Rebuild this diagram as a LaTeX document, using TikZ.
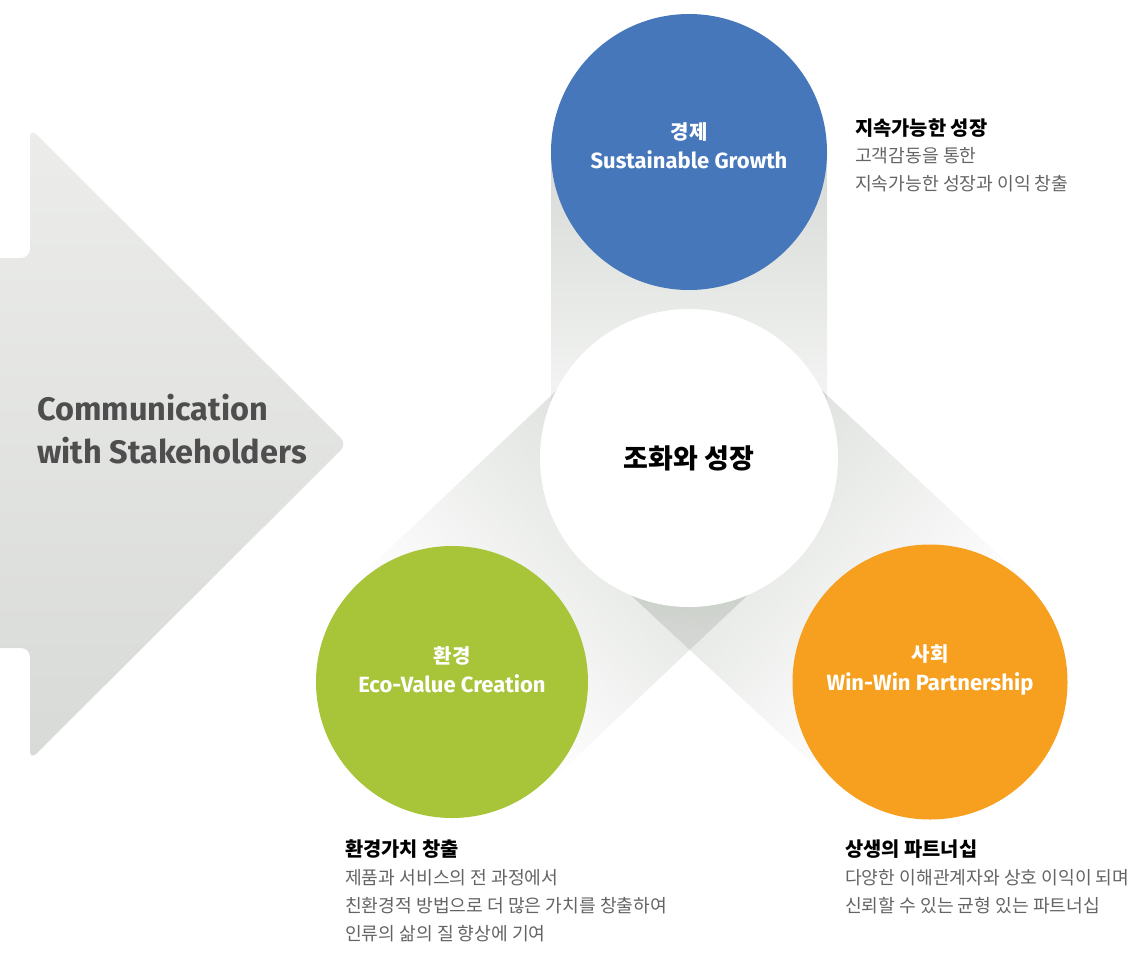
\documentclass[tikz,border=0pt]{standalone}
\usepackage{fontspec}
\setmainfont{Fira Sans}
\newfontfamily\kr{Noto Sans CJK KR}
\usetikzlibrary{positioning,calc}

\definecolor{econblue}{RGB}{69,119,186}
\definecolor{ecogreen}{RGB}{168,197,58}
\definecolor{socorange}{RGB}{247,160,32}
\definecolor{bandgray}{RGB}{200,205,199}
\definecolor{stemgray}{RGB}{196,201,195}
\definecolor{arrowlight}{RGB}{236,237,235}
\definecolor{arrowdark}{RGB}{216,218,215}
\definecolor{headgray}{RGB}{78,78,78}
\definecolor{bodygray}{RGB}{100,100,100}

\pgfdeclarehorizontalshading{bandfade}{100bp}{color(0bp)=(white); color(25bp)=(white); color(100bp)=(bandgray)}
\pgfdeclareverticalshading{stemfade}{100bp}{color(0bp)=(white); color(18bp)=(white); color(100bp)=(stemgray)}

\tikzset{
  disc/.style={circle, inner sep=0pt, minimum size=#1},
  pillar/.style={align=center, text=white, inner sep=0pt, font=\bfseries\fontsize{22}{29}\selectfont},
  notehead/.style={anchor=base west, inner sep=0pt, font=\kr\bfseries\fontsize{19.8}{27}\selectfont},
  notebody/.style={anchor=north west, align=left, inner sep=0pt, text=bodygray, font=\kr\fontsize{18.2}{27.7}\selectfont}
}
\newcommand{\krlbl}[1]{{\kr\fontsize{20}{29}\selectfont #1}}

\begin{document}
\begin{tikzpicture}[x=1pt, y=-1pt]
  \useasboundingbox (0,0) rectangle (1129,953);

  % big arrow on the left
  \shade[top color=arrowlight, bottom color=arrowdark, rounded corners=9pt]
    (-20,258) -- (30,258) -- (30,128) -- (347,444) -- (30,760) -- (30,648) -- (-20,648) -- cycle;
  \node[anchor=west, align=left, inner sep=0pt, text=headgray, font=\bfseries\fontsize{32.5}{43}\selectfont]
    (stake) at (37,429) {Communication\\with Stakeholders};

  \coordinate (econc) at (689,152);
  \coordinate (corec) at (689,458);
  \coordinate (ecoc) at (452,682);
  \coordinate (socc) at (930,682);

  % shadow bands
  \begin{scope}[blend mode=multiply]
    \begin{scope}[transform canvas={shift={(ecoc)}, rotate=43.4}]
      \shade[shading=bandfade] (0,-140) rectangle (326,140);
    \end{scope}
    \begin{scope}[transform canvas={shift={(socc)}, rotate=137.1}]
      \shade[shading=bandfade] (0,-140) rectangle (329,140);
    \end{scope}
    \shade[shading=stemfade] (551,152) rectangle (827,458);
  \end{scope}

  % circles
  \node[disc=276pt, fill=econblue] (econ) at (econc) {};
  \node[disc=298pt, fill=white] (core) at (corec) {};
  \node[disc=272pt, fill=ecogreen] (eco) at (ecoc) {};
  \node[disc=275pt, fill=socorange] (soc) at (socc) {};

  \node[pillar] (econlbl) at ($(econ.center)+(0,-6)$) {\krlbl{경제}\\Sustainable Growth};
  \node[pillar] (ecolbl) at ($(eco.center)+(0,-12)$) {\krlbl{환경}\\Eco-Value Creation};
  \node[pillar] (soclbl) at ($(soc.center)+(0,-12)$) {\krlbl{사회}\\Win-Win Partnership};
  \node[font=\kr\bfseries\fontsize{27}{30}\selectfont] (corelbl) at (core) {조화와 성장};

  % notes
  \node[notehead] (econhead) at (855,135) {지속가능한 성장};
  \node[notebody] (econbody) at ($(econhead.base west)+(0,12.5)$) {고객감동을 통한\\지속가능한 성장과 이익 창출};

  \node[notehead] (ecohead) at (345,856) {환경가치 창출};
  \node[notebody] (ecobody) at ($(ecohead.base west)+(0,13.5)$) {제품과 서비스의 전 과정에서\\친환경적 방법으로 더 많은 가치를 창출하여\\인류의 삶의 질 향상에 기여};

  \node[notehead] (sochead) at (845,856) {상생의 파트너십};
  \node[notebody] (socbody) at ($(sochead.base west)+(0,13.5)$) {다양한 이해관계자와 상호 이익이 되며\\신뢰할 수 있는 균형 있는 파트너십};
\end{tikzpicture}
\end{document}
